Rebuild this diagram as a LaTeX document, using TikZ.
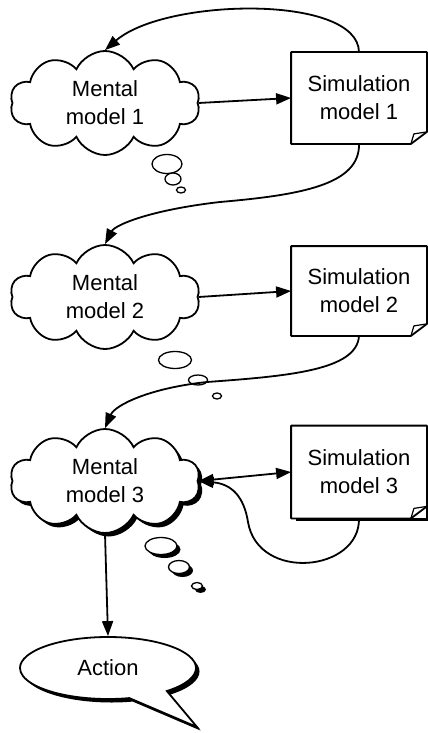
\documentclass[tikz,border=0pt]{standalone}
\usepackage{fontspec}
\setmainfont{Liberation Sans}
\usepackage{tikz}
\usetikzlibrary{arrows.meta, positioning, shapes.symbols, shapes.geometric, shapes.callouts, shadows}

\begin{document}
\begin{tikzpicture}[
    x=1pt, y=-1pt,
    font=\fontsize{22}{28}\selectfont,
    line width=1.8pt,
    mind/.style={cloud, cloud puffs=10, cloud puff arc=130, cloud ignores aspect, draw, fill=white,
        minimum width=190pt, minimum height=104pt, inner sep=0pt, align=center},
    page/.style={rectangle, fill=white, minimum width=134pt, inner sep=0pt, align=center},
    bubble/.style={ellipse, draw, fill=white, inner sep=0pt, line width=1.3pt},
    solid shadow/.style={drop shadow={opacity=1, fill=black, shadow xshift=3.5pt, shadow yshift=-3.5pt}},
    link/.style={-{Triangle[length=15pt, width=11pt]}}
]
\useasboundingbox (0,0) rectangle (428,733);

% Level 1
\node[mind] (men1) at (105,103) {Mental\\model 1};
\node[page, minimum height=90pt] (sim1) at (359,98) {Simulation\\model 1};

\node[bubble, minimum width=30pt, minimum height=19pt] (th1a) at (167,164) {};
\node[bubble, minimum width=16pt, minimum height=12pt] (th1b) at (173,179) {};
\node[bubble, minimum width=9pt, minimum height=6pt] (th1c) at (181,190) {};

% Level 2
\node[mind] (men2) at (105,297) {Mental\\model 2};
\node[page, minimum height=88pt] (sim2) at (359,291) {Simulation\\model 2};

\node[bubble, minimum width=33pt, minimum height=17pt] (th2a) at (175,360) {};
\node[bubble, minimum width=19pt, minimum height=10pt] (th2b) at (198,380) {};
\node[bubble, minimum width=9pt, minimum height=6pt] (th2c) at (217,396) {};

% Level 3
\node[mind, solid shadow] (men3) at (105,481) {Mental\\model 3};
\node[page, minimum height=91pt, solid shadow] (sim3) at (359,472) {Simulation\\model 3};

\node[bubble, solid shadow, minimum width=32pt, minimum height=17pt] (th3a) at (161,546) {};
\node[bubble, solid shadow, minimum width=21pt, minimum height=13pt] (th3b) at (179,567) {};
\node[bubble, solid shadow, minimum width=11pt, minimum height=7pt] (th3c) at (197,586) {};

% Action
\node[ellipse callout, draw, fill=white, solid shadow, minimum width=176pt, minimum height=62pt,
    inner sep=0pt, callout pointer arc=28, callout absolute pointer={(197,727)}] (act) at (108,668) {Action};

% Pages with folded corner
\foreach \n in {sim1, sim2, sim3} {
    \draw[line join=round] (\n.north west) -- (\n.north east) -- ([yshift=12pt]\n.south east)
        -- ([xshift=-16pt]\n.south east) -- (\n.south west) -- cycle;
    \draw[line width=1.2pt, line join=round] ([xshift=-16pt]\n.south east) -- ([xshift=-13pt, yshift=10pt]\n.south east)
        -- ([yshift=12pt]\n.south east);
}

% Arrows
\draw[link] (men1.east) -- (sim1.west);
\draw[link] (men2.east) -- (sim2.west);
\draw[{Triangle[length=15pt, width=11pt]}-{Triangle[length=15pt, width=11pt]}] (men3.east) -- (sim3.west);
\draw[link] (men3.south) -- (act.north);

% Feedback curves
\draw[link] (sim1.north) .. controls (358,-6) and (165,-2) .. (men1.north);
\draw[link] (sim1.south) .. controls (360,185) and (300,195) .. (220,202)
    .. controls (150,210) and (115,225) .. (men2.north);
\draw[link] (sim2.south) .. controls (357,370) and (290,376) .. (207,382)
    .. controls (150,388) and (115,405) .. (men3.north);
\draw[link] (sim3.south) .. controls (360,572) and (258,582) .. (248,522)
    .. controls (244,497) and (232,484) .. (men3.east);

\end{tikzpicture}
\end{document}
